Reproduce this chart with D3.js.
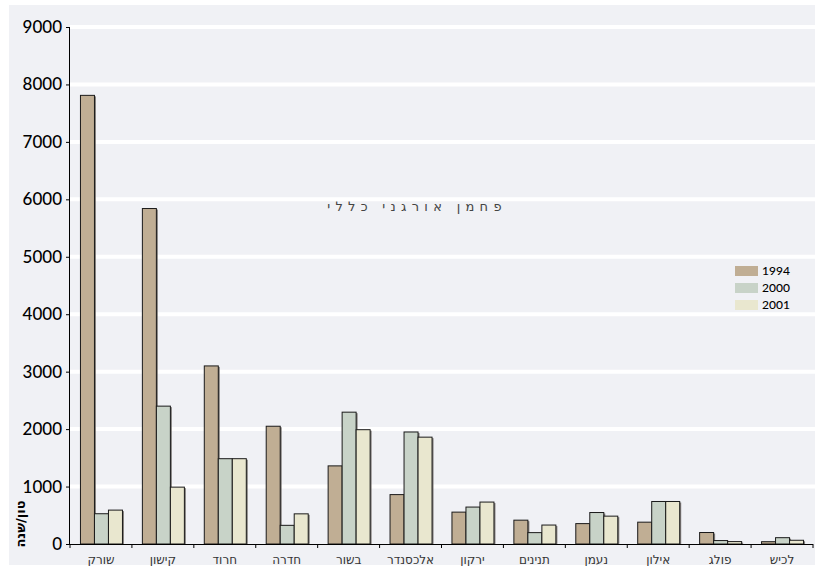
<!DOCTYPE html>
<html>
<head>
<meta charset="utf-8">
<script src="https://cdn.jsdelivr.net/npm/d3@7"></script>
<style>
  html, body { margin: 0; padding: 0; background: #ffffff; }
  svg { display: block; }
</style>
</head>
<body>
<svg id="chart" width="820" height="573"></svg>
<script>
// Rivers (right-to-left order as printed on the axis)
const rivers = ["שורק", "קישון", "חרוד", "חדרה", "בשור", "אלכסנדר", "ירקון", "תנינים", "נעמן", "אילון", "פולג", "לכיש"];
const years = ["1994", "2000", "2001"];

// Total organic carbon load, ton/year
const load1994 = [7810, 5840, 3100, 2050, 1360, 860, 555, 415, 355, 380, 200, 40];
const load2000 = [527, 2400, 1485, 325, 2295, 1950, 643, 198, 548, 740, 60, 110];
const load2001 = [590, 990, 1485, 525, 1990, 1860, 730, 330, 485, 740, 42, 65];

const yTicks = [0, 1000, 2000, 3000, 4000, 5000, 6000, 7000, 8000, 9000];
const yearColors = ["#c0ae94", "#c8d3c8", "#e9e7cf"];

const chartTitle = "פחמן אורגני כללי";
const yTitle = "טון/שנה";

const series = [load1994, load2000, load2001];

const svg = d3.select("#chart");
const m = { left: 70, right: 813, top: 27, bottom: 544 };

// panel background
svg.append("rect")
  .attr("x", 9).attr("y", 5).attr("width", 806).attr("height", 560)
  .attr("fill", "#f0f1f5");

const x = d3.scaleBand().domain(rivers).range([m.left, m.right]).paddingInner(0).paddingOuter(0);
const y = d3.scaleLinear().domain([0, 9000]).range([m.bottom, m.top]);

const barW = 14;
const xi = d3.scaleBand().domain(years).range([0, barW * 3]);

// white gridlines
svg.append("g").selectAll("line")
  .data(yTicks.filter(d => d > 0))
  .join("line")
  .attr("x1", m.left).attr("x2", 815)
  .attr("y1", d => y(d)).attr("y2", d => y(d))
  .attr("stroke", "#ffffff").attr("stroke-width", 4);

// bars
const groups = svg.append("g").selectAll("g")
  .data(rivers)
  .join("g")
  .attr("transform", d => `translate(${x(d) + (x.bandwidth() - barW * 3) / 2 + 0.5},0)`);

years.forEach((yr, k) => {
  // soft shadow
  groups.append("rect")
    .attr("x", (d, i) => xi(yr) + 1.5)
    .attr("y", (d, i) => y(series[k][i]) + 1)
    .attr("width", barW)
    .attr("height", (d, i) => m.bottom - y(series[k][i]) - 1)
    .attr("fill", "#6e6a66")
    .attr("opacity", 0.85);
  groups.append("rect")
    .attr("x", (d, i) => xi(yr))
    .attr("y", (d, i) => y(series[k][i]))
    .attr("width", barW)
    .attr("height", (d, i) => m.bottom - y(series[k][i]))
    .attr("fill", yearColors[k])
    .attr("stroke", "#1a1a1a")
    .attr("stroke-width", 1);
});

// y axis
const yAxis = d3.axisLeft(y).tickValues(yTicks).tickSize(4).tickPadding(4).tickFormat(d3.format("d"));
const gy = svg.append("g").attr("transform", `translate(${m.left},0)`).call(yAxis);
gy.select(".domain").attr("stroke", "#000").attr("d", `M-0.5,${m.top}V${m.bottom}`);
gy.selectAll(".tick line").attr("stroke", "#000");
gy.selectAll(".tick text")
  .attr("fill", "#000")
  .style("font-family", "Lato, 'Open Sans', sans-serif")
  .style("font-size", "17px")
  .style("font-weight", "500");

// x axis
const xAxis = d3.axisBottom(x).tickSize(0).tickPadding(11);
const gx = svg.append("g").attr("transform", `translate(0,${m.bottom})`).call(xAxis);
gx.select(".domain").attr("stroke", "#000").attr("d", `M${m.left},0.5H${m.right}`);
gx.selectAll(".tick text")
  .attr("fill", "#333")
  .style("font-family", "'DejaVu Sans', sans-serif")
  .style("font-size", "12px");

// boundary ticks between rivers
svg.append("g").selectAll("line")
  .data(d3.range(rivers.length + 1))
  .join("line")
  .attr("x1", i => m.left + i * x.step())
  .attr("x2", i => m.left + i * x.step())
  .attr("y1", m.bottom).attr("y2", m.bottom + 4)
  .attr("stroke", "#000");

// chart title, spaced letters
svg.append("text")
  .attr("x", 417).attr("y", 211)
  .attr("text-anchor", "middle")
  .attr("direction", "rtl")
  .attr("letter-spacing", "5.3px")
  .attr("fill", "#444")
  .style("font-family", "'DejaVu Sans', sans-serif")
  .style("font-size", "13px")
  .text(chartTitle);

// y axis title
svg.append("text")
  .attr("transform", "translate(25,524) rotate(-90)")
  .attr("text-anchor", "middle")
  .attr("fill", "#000")
  .style("font-family", "'DejaVu Sans', sans-serif")
  .style("font-size", "13px")
  .style("font-weight", "bold")
  .text(yTitle);

// legend
const lg = svg.append("g").attr("transform", "translate(735,266)");
years.forEach((yr, k) => {
  lg.append("rect")
    .attr("x", 0).attr("y", k * 17)
    .attr("width", 23).attr("height", 10)
    .attr("fill", yearColors[k]);
  lg.append("text")
    .attr("x", 27).attr("y", k * 17 + 9)
    .attr("fill", "#000")
    .style("font-family", "Lato, sans-serif")
    .style("font-size", "12px")
    .style("font-weight", "500")
    .text(yr);
});
</script>
</body>
</html>
